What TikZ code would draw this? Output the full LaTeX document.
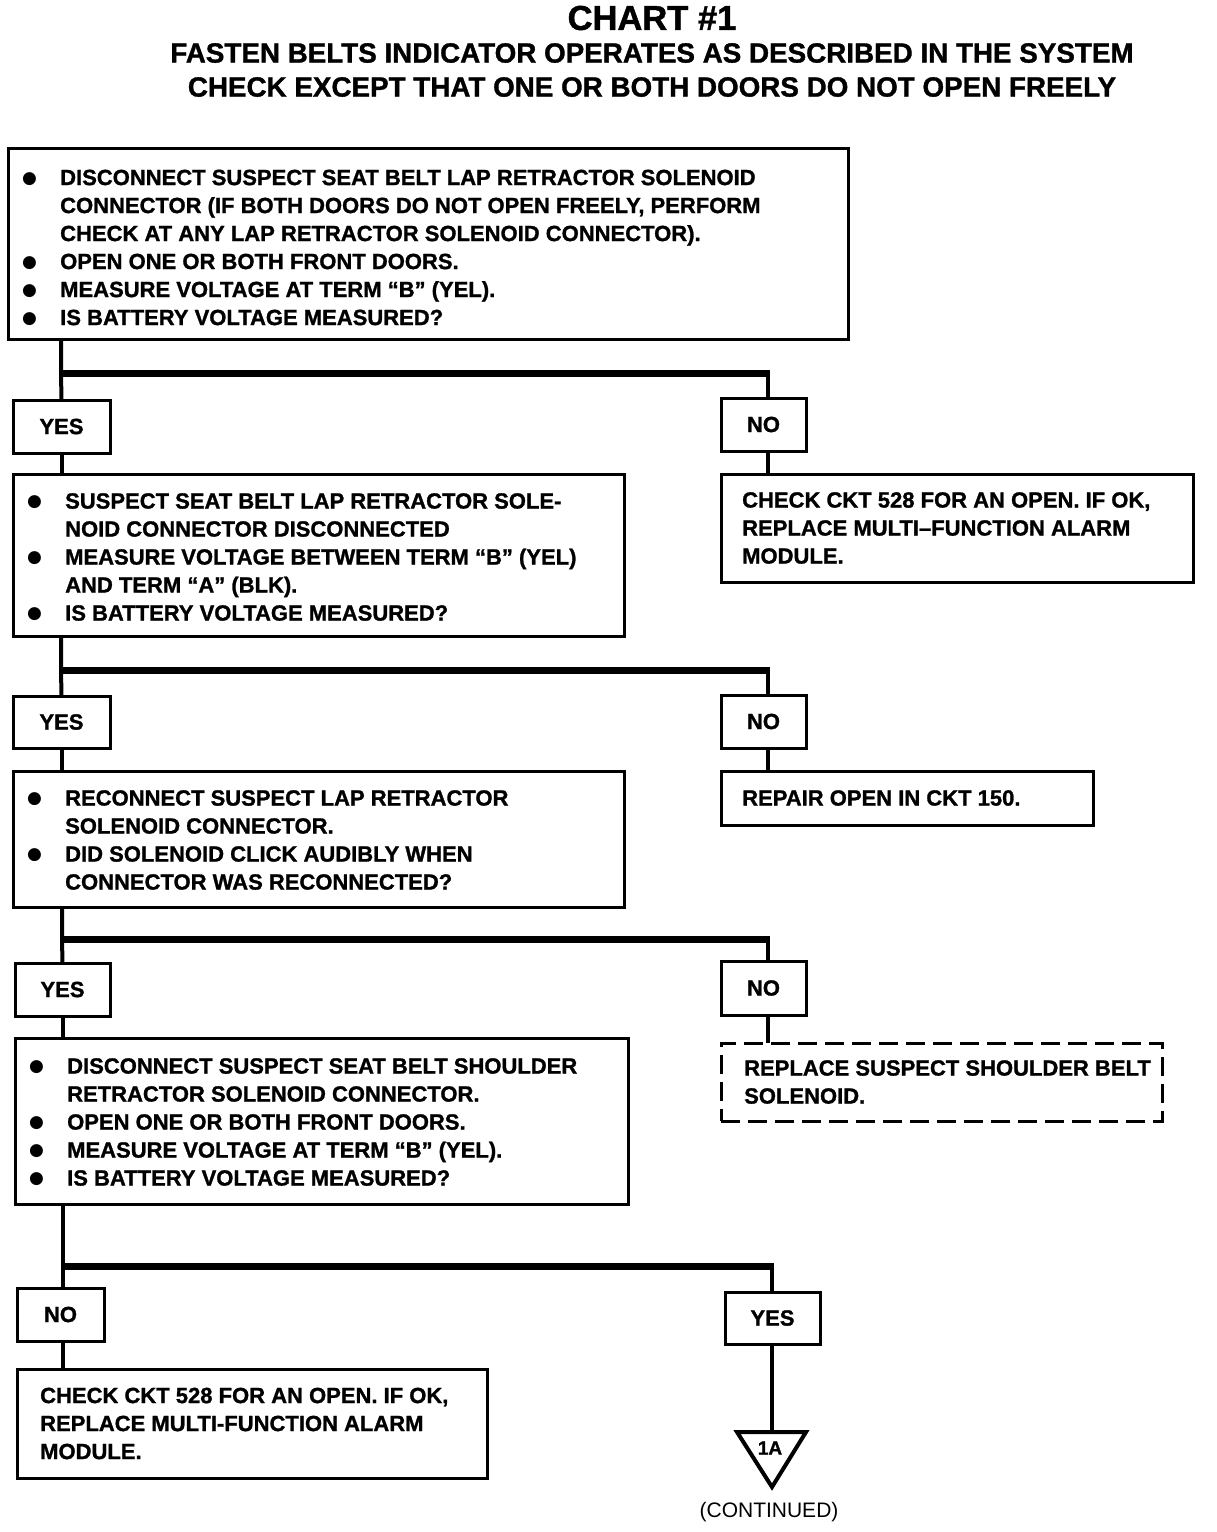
\documentclass[tikz,border=0pt]{standalone}
\usepackage{fontspec}
\setmainfont{Liberation Sans}[BoldFeatures={FakeBold=1.2}]
\newfontfamily\dv{DejaVu Sans}
\newcommand\bul{\makebox[38pt][l]{\smash{\raisebox{1.8pt}{\dv\fontsize{17}{17}\selectfont ●}}}}
\newcommand\ind{\hspace*{38pt}}
\begin{document}
\begin{tikzpicture}[x=1pt,y=-1pt,
  box/.style={draw, line width=3pt, anchor=north west, inner sep=0pt, outer sep=0pt},
  dbox/.style={box, dash pattern=on 19pt off 8pt},
  lab/.style={box, font=\bfseries\fontsize{22}{28}\selectfont},
  txt/.style={anchor=west, inner sep=0pt, align=left, font=\bfseries\fontsize{22}{28}\selectfont},
  vline/.style={line width=4pt},
  hbar/.style={line width=7pt},
  ttl/.style={inner sep=0pt, font=\bfseries\fontsize{27.8}{34}\selectfont}
]
\useasboundingbox (0,0) rectangle (1216,1532);
% titles
\node[inner sep=0pt, font=\bfseries\fontsize{34.5}{40}\selectfont] (h1) at (652,18) {CHART \#1};
\node[ttl] (h2) at (652,53) {FASTEN BELTS INDICATOR OPERATES AS DESCRIBED IN THE SYSTEM};
\node[ttl] (h3) at (652,87) {CHECK EXCEPT THAT ONE OR BOTH DOORS DO NOT OPEN FREELY};

% level 1
\node[box, minimum width=840, minimum height=191] (b1) at (8,148) {};
\node[txt] (t1) at ([xshift=14pt,yshift=-4pt]b1.west) {\bul DISCONNECT SUSPECT SEAT BELT LAP RETRACTOR SOLENOID\\
\ind CONNECTOR (IF BOTH DOORS DO NOT OPEN FREELY, PERFORM\\
\ind CHECK AT ANY LAP RETRACTOR SOLENOID CONNECTOR).\\
\bul OPEN ONE OR BOTH FRONT DOORS.\\
\bul MEASURE VOLTAGE AT TERM “B” (YEL).\\
\bul IS BATTERY VOLTAGE MEASURED?};

\coordinate (j1) at (61,373);
\coordinate (k1) at (768,373);
\node[lab, minimum width=97, minimum height=53] (y1) at (13,400) {YES};
\node[lab, minimum width=85, minimum height=53] (n1) at (721,398) {NO};
\node[box, minimum width=611, minimum height=162] (b2) at (13,474) {};
\node[txt] (t2) at ([xshift=14pt,yshift=-2pt]b2.west) {\bul SUSPECT SEAT BELT LAP RETRACTOR SOLE-\\
\ind NOID CONNECTOR DISCONNECTED\\
\bul MEASURE VOLTAGE BETWEEN TERM “B” (YEL)\\
\ind AND TERM “A” (BLK).\\
\bul IS BATTERY VOLTAGE MEASURED?};
\node[box, minimum width=472, minimum height=108] (r1) at (721,474) {};
\node[txt] (u1) at ([xshift=21pt]r1.west) {CHECK CKT 528 FOR AN OPEN. IF OK,\\
REPLACE MULTI–FUNCTION ALARM\\
MODULE.};

\draw[vline] (b1.south -| j1) -- (j1) -- (y1.north);
\draw[hbar] (j1) -- ([xshift=2pt]k1);
\draw[vline] (k1) -- (k1 |- n1.north);
\draw[vline] (y1.south) -- (y1.south |- b2.north);
\draw[vline] (n1.south -| k1) -- (k1 |- r1.north);

% level 2
\coordinate (j2) at (61,670);
\coordinate (k2) at (768,670);
\node[lab, minimum width=97, minimum height=52] (y2) at (13,696) {YES};
\node[lab, minimum width=85, minimum height=53] (n2) at (721,695) {NO};
\node[box, minimum width=611, minimum height=136] (b3) at (13,771) {};
\node[txt] (t3) at ([xshift=14pt,yshift=-1pt]b3.west) {\bul RECONNECT SUSPECT LAP RETRACTOR\\
\ind SOLENOID CONNECTOR.\\
\bul DID SOLENOID CLICK AUDIBLY WHEN\\
\ind CONNECTOR WAS RECONNECTED?};
\node[box, minimum width=372, minimum height=54] (r2) at (721,771) {};
\node[txt] (u2) at ([xshift=21pt]r2.west) {REPAIR OPEN IN CKT 150.};

\draw[vline] (b2.south -| j2) -- (j2) -- (y2.north);
\draw[hbar] (j2) -- ([xshift=2pt]k2);
\draw[vline] (k2) -- (k2 |- n2.north);
\draw[vline] (y2.south) -- (y2.south |- b3.north);
\draw[vline] (n2.south -| k2) -- (k2 |- r2.north);

% level 3
\coordinate (j3) at (62,939);
\coordinate (k3) at (768,939);
\node[lab, minimum width=95, minimum height=53] (y3) at (15,963) {YES};
\node[lab, minimum width=85, minimum height=54] (n3) at (721,961) {NO};
\node[box, minimum width=613, minimum height=166] (b4) at (15,1038) {};
\node[txt] (t4) at ([xshift=14pt,yshift=-1pt]b4.west) {\bul DISCONNECT SUSPECT SEAT BELT SHOULDER\\
\ind RETRACTOR SOLENOID CONNECTOR.\\
\bul OPEN ONE OR BOTH FRONT DOORS.\\
\bul MEASURE VOLTAGE AT TERM “B” (YEL).\\
\bul IS BATTERY VOLTAGE MEASURED?};
\node[dbox, minimum width=441, minimum height=78] (r3) at (721,1043) {};
\node[txt] (u3) at ([xshift=23pt]r3.west) {REPLACE SUSPECT SHOULDER BELT\\
SOLENOID.};

\draw[vline] (b3.south -| j3) -- (j3) -- (y3.north);
\draw[hbar] (j3) -- ([xshift=2pt]k3);
\draw[vline] (k3) -- (k3 |- n3.north);
\draw[vline] (y3.south) -- (y3.south |- b4.north);
\draw[vline] (n3.south -| k3) -- (k3 |- r3.north);

% level 4
\coordinate (j4) at (63,1266);
\coordinate (k4) at (772,1266);
\node[lab, minimum width=87, minimum height=53] (n4) at (17,1288) {NO};
\node[lab, minimum width=95, minimum height=52] (y4) at (725,1292) {YES};
\node[box, minimum width=470, minimum height=109] (b5) at (17,1369) {};
\node[txt] (u4) at ([xshift=23pt]b5.west) {CHECK CKT 528 FOR AN OPEN. IF OK,\\
REPLACE MULTI-FUNCTION ALARM\\
MODULE.};

\coordinate (tri) at (772,1432);
\draw[line width=4pt, line join=miter] (737,1432) -- (806,1432) -- (772,1487) -- cycle;
\node[inner sep=0pt, font=\bfseries\fontsize{19}{20}\selectfont] (c1) at (770,1448) {1A};
\node[inner sep=0pt, font=\fontsize{21}{24}\selectfont] (c2) at (769,1512) {(CONTINUED)};

\draw[vline] (b4.south -| j4) -- (j4) -- (n4.north -| j4);
\draw[hbar] (j4) -- ([xshift=2pt]k4);
\draw[vline] (k4) -- (k4 |- y4.north);
\draw[vline] (n4.south -| j4) -- (j4 |- b5.north);
\draw[vline] (y4.south -| k4) -- (tri);
\end{tikzpicture}
\end{document}
